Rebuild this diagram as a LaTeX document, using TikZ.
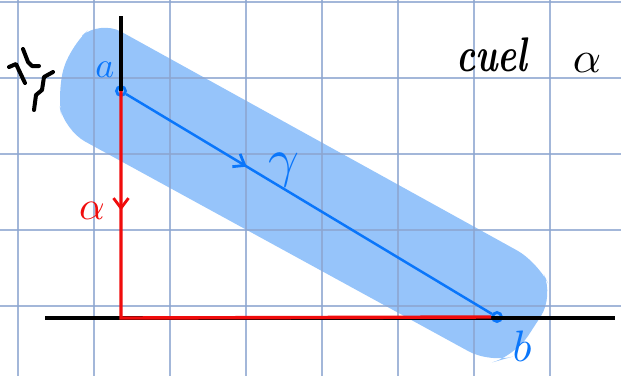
\documentclass[tikz,border=0pt]{standalone}
\usepackage{tikz}
\usetikzlibrary{arrows.meta,decorations.markings}
\definecolor{inkblue}{RGB}{10,118,250}
\definecolor{inkred}{RGB}{240,12,12}
\definecolor{bandblue}{RGB}{150,196,250}
\definecolor{gridblue}{RGB}{140,165,208}
\newcommand{\handmath}[2]{\scalebox{#1}{$#2$}}
\tikzset{
  note/grid/.style={gridblue, line width=1.3pt, opacity=0.8},
  note/band/.style={fill=bandblue, rounded corners=24pt},
  note/axis/.style={black, line width=3.2pt},
  note/pt/.style={draw=inkblue, circle, line width=2.8pt, inner sep=0pt, minimum size=9pt},
  note/curve/.style={inkblue, line width=2.5pt},
  note/path/.style={inkred, line width=3.4pt},
  note/label/.style={inner sep=0pt, font=\normalsize},
  note/scribble/.style={black, line width=4pt, line join=round, line cap=round},
  note/midarrow/.style={postaction={decorate, decoration={markings,
      mark=at position #1 with {\arrow{Straight Barb[length=10pt, width=15pt, line width=2.8pt]}}}}}
}

\begin{document}
\begin{tikzpicture}[x=1pt, y=-1pt]
  \useasboundingbox (0,0) rectangle (621,376);
  % highlighted strip
  \fill[note/band] (70,46) -- (100,20) -- (538,262) -- (554,296) -- (515,356)
    -- (490,363) -- (64,130) -- (57,92) -- cycle;
  % squared paper
  \foreach \x in {18,94,...,626} \draw[note/grid] (\x,0) -- (\x,376);
  \foreach \y in {2,78,...,382} \draw[note/grid] (0,\y) -- (621,\y);

  \coordinate (top) at (121,16);
  \coordinate (left) at (45,318);
  \coordinate (right) at (615,318);
  \coordinate (corner) at (121,318);
  \node[note/pt] (a) at (121,91) {};
  \node[note/pt] (b) at (497,317) {};

  \draw[note/axis] (top) -- (a.center);
  \draw[note/axis] (left) -- (right);
  \draw[note/path, note/midarrow=0.2] (a.center) -- (corner) -- (b.west);
  \draw[note/curve, note/midarrow=0.33] (a) -- (b);

  \node[note/label, text=inkblue] (la) at (105,70) {\handmath{3.6}{a}};
  \node[note/label, text=inkblue] (lb) at (522,346) {\handmath{4.4}{b}};
  \node[note/label, text=inkblue] (lg) at (284,170) {\handmath{5.4}{\gamma}};
  \node[note/label, text=inkred] (lal) at (92,211) {\handmath{4}{\alpha}};
  \node[note/label] (curl) at (492,55) {\scalebox{1}[1.35]{\fontsize{36}{40}\selectfont\bfseries\itshape cuel}};
  \node[note/label] (alpha) at (587,63) {\handmath{4.4}{\alpha}};

  % scribble at the left
  \draw[note/scribble] (9,67) -- (16,64) -- (25,83) (23,49) -- (28,62) -- (32,66) -- (39,66);
  \draw[note/scribble] (53,72) -- (44,77) -- (42,90) -- (36,95) -- (34,110);
\end{tikzpicture}
\end{document}
